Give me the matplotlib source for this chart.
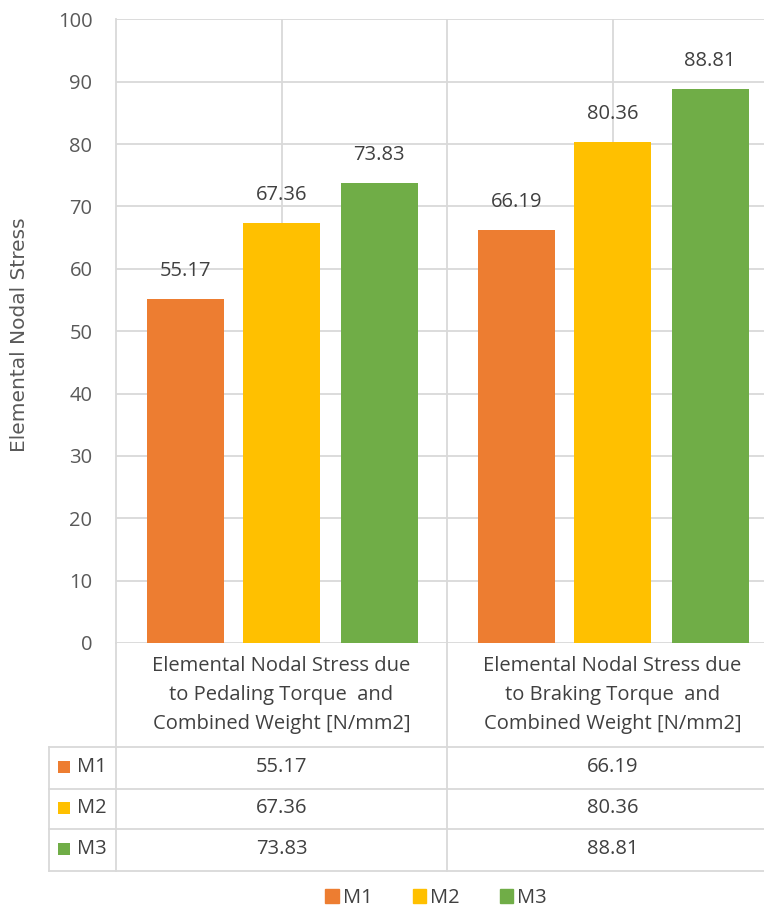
import matplotlib
matplotlib.use("Agg")
import matplotlib.pyplot as plt
from matplotlib.patches import Patch

plt.rcParams['font.family'] = ['Open Sans', 'DejaVu Sans']

categories = ["Elemental Nodal Stress due\nto Pedaling Torque  and\nCombined Weight [N/mm2]",
              "Elemental Nodal Stress due\nto Braking Torque  and\nCombined Weight [N/mm2]"]
series_names = ["M1", "M2", "M3"]
M1 = [55.17, 66.19]
M2 = [67.36, 80.36]
M3 = [73.83, 88.81]
series_values = [M1, M2, M3]
colors = ["#ED7D31", "#FFC000", "#70AD47"]
yticks = [0, 10, 20, 30, 40, 50, 60, 70, 80, 90, 100]

W, H = 764, 910
fig = plt.figure(figsize=(W / 100, H / 100), dpi=100)

def fr(x0, y0, x1, y1):
    return [x0 / W, 1 - y1 / H, (x1 - x0) / W, (y1 - y0) / H]

ax = fig.add_axes(fr(116, 19.3, 778, 643))
grid_c = "#D9D9D9"
txt_c = "#404040"
tick_c = "#595959"
fs = 14.5

offsets = [-0.29, 0.0, 0.295]
bw = 0.232
xs = list(range(len(categories)))
for vals, off, c in zip(series_values, offsets, colors):
    pos = [x + off for x in xs]
    ax.bar(pos, vals, width=bw, color=c, zorder=3)
    for p, v in zip(pos, vals):
        ax.annotate(f"{v:.2f}", (p, v), xytext=(0, 20), textcoords="offset points",
                    ha="center", va="center", fontsize=fs, color=txt_c)

ax.set_xlim(-0.5, 1.5)
ax.set_ylim(0, 100)
ax.set_yticks(yticks)
ax.set_yticklabels([str(t) for t in yticks], fontsize=fs, color=tick_c)
ax.set_xticks([])
ax.tick_params(axis="y", length=0, pad=17)
for y in yticks:
    ax.axhline(y, color=grid_c, lw=1.3, zorder=1)
for x in [0, 0.5, 1]:
    ax.axvline(x, color=grid_c, lw=1.3, zorder=1)
for s in ax.spines.values():
    s.set_visible(False)
ax.spines["left"].set_visible(True)
ax.spines["left"].set_color(grid_c)
ax.spines["left"].set_linewidth(1.3)

fig.text(20 / W, 1 - 335 / H, "Elemental Nodal Stress", rotation=90, ha="center", va="center",
         fontsize=14.5, color=tick_c, family=["DejaVu Sans"])

# data table
tx0 = -0.5 - 67 / 331.0
tab = fig.add_axes(fr(49, 643, 778, 871))
tab.set_xlim(tx0, 1.5)
tab.set_ylim(871, 643)
tab.axis("off")
lw = 1.3
tab.plot([-0.5, -0.5], [643, 871], color=grid_c, lw=lw, clip_on=False)
tab.plot([0.5, 0.5], [643, 871], color=grid_c, lw=lw, clip_on=False)
tab.plot([tx0, tx0], [747, 871], color=grid_c, lw=lw, clip_on=False)
for yy in [747, 789, 829, 871]:
    tab.plot([tx0, 1.5], [yy, yy], color=grid_c, lw=lw, clip_on=False)

for x, cat in zip(xs, categories):
    tab.text(x, 695, cat, ha="center", va="center", fontsize=14.5, color=txt_c, linespacing=1.58)

row_y = [767, 808, 849]
for ry, name, vals, c in zip(row_y, series_names, series_values, colors):
    tab.scatter([tx0 + 15 / 331], [ry], marker="s", s=72, color=c, clip_on=False, linewidths=0)
    tab.text(tx0 + 28 / 331, ry, name, ha="left", va="center", fontsize=fs, color=txt_c)
    for x, v in zip(xs, vals):
        tab.text(x, ry, f"{v:.2f}", ha="center", va="center", fontsize=fs, color=txt_c)

handles = [Patch(color=c, label=n) for n, c in zip(series_names, colors)]
fig.legend(handles=handles, loc="center", bbox_to_anchor=(436 / W, 1 - 898 / H), ncol=3,
           frameon=False, fontsize=14.5, handlelength=0.65, handleheight=0.65,
           handletextpad=0.2, columnspacing=2.0, labelcolor=txt_c, borderpad=0.1)

fig.savefig("out.png", dpi=100)
